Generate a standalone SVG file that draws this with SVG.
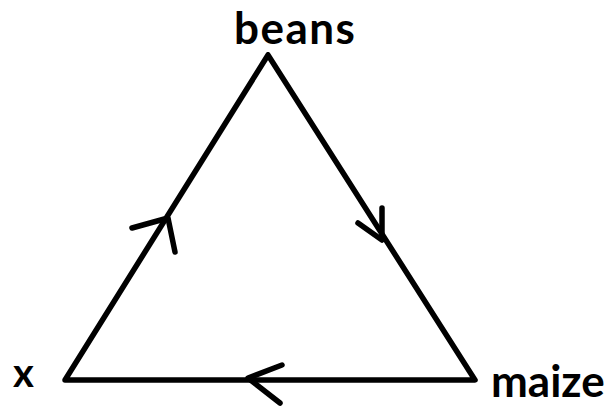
<svg xmlns="http://www.w3.org/2000/svg" width="605" height="406" viewBox="0 0 605 406">
<style>
.edge{fill:none;stroke:#000;stroke-width:5.5;stroke-linecap:round;stroke-linejoin:round}
.lbl{font-family:Lato,"Open Sans",sans-serif;font-weight:bold;font-size:44px;fill:#000}
</style>
<rect width="605" height="406" fill="#fff"/>
<g id="connectors">
<polyline class="edge" points="268,55 475,380 65,380 268,55"/>
<polyline class="edge" points="132,228 168,218 175,252"/>
<polyline class="edge" points="358,223 382,240 382,208"/>
<polyline class="edge" points="282,365 248,378 280,403"/>
</g>
<g id="beans"><text class="lbl" x="234" y="44" style="letter-spacing:1.5px">beans</text></g>
<g id="x"><text class="lbl" x="13" y="387" style="font-size:40px">x</text></g>
<g id="maize"><text class="lbl" x="491" y="397">maize</text></g>
</svg>
